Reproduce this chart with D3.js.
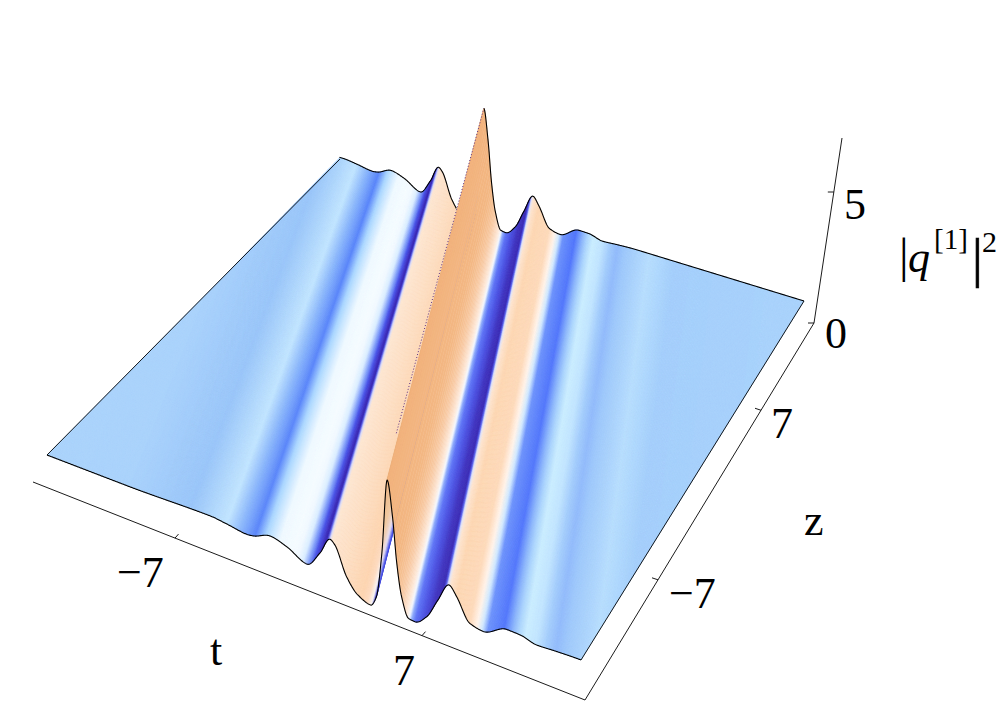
<!DOCTYPE html>
<html>
<head>
<meta charset="utf-8">
<script src="https://cdn.jsdelivr.net/npm/d3@7"></script>
<style>
  html, body { margin: 0; background: #fff; }
  svg { display: block; }
  text { font-family: "Liberation Serif", serif; fill: #000; }
</style>
</head>
<body>
<script>
// Wave profile: t where each wave meets the z = -15 edge, and its height
const ridgeT = [-15, -10.5, -5.85, -4.89, -3.77, -3.42, -2.46, -1.53, -0.39, 0.33, 0.9, 1.17, 1.83, 2.46,
  3.18, 3.51, 3.81, 4.11, 4.41, 4.65, 4.92, 5.31, 5.67, 6.33, 6.96, 7.59, 8.01, 8.76, 9.51, 10.83,
  11.58, 12.51, 13.62, 14.94, 18, 26.8];
const ridgeH = [1, 1, 1.06, 1, 0.91, 0.94, 1.16, 1.01, 0.68, 1.23, 1.84, 1.71, 0.77, 0.29,
  0.11, 0.48, 2.03, 4.64, 3.45, 1.9, 0.81, 0.15, 0.12, 0.45, 1.17, 1.84, 1.54, 0.79, 0.69, 1.07,
  1.06, 0.93, 0.97, 1, 1, 1];

// Surface shading across the waves
const shadeT = [-15, -10.5, -6.9, -4.9, -4.1, -3.3, -2.65, -1.9, -1.2, -0.9, -0.6, -0.3, 0.05, 0.45,
  0.72, 0.82, 0.92, 1.02, 2.4, 2.7, 3.0, 3.24, 3.48, 3.63, 3.75, 3.9, 4.11, 4.14, 4.65, 4.95, 5.2,
  5.36, 5.5, 5.7, 6.15, 6.75, 7.3, 7.45, 7.55, 7.68, 8.0, 8.76, 9.15, 9.45, 9.78, 10.7, 11.2, 11.5, 11.9, 12.5,
  13.1, 13.6, 14.2, 15.4, 15.85, 16.4, 17.6, 26.8];
const shadeColor = ["#a7d1fb", "#a6d0fb", "#96c3f8", "#bfe3fe", "#85b2fa", "#5682f9", "#a9d6fe", "#eef8ff", "#f4fbff",
  "#f0f8ff", "#d8ecff", "#7f9cf8", "#4a55e8", "#4032c0", "#3a2ab0", "#5a60e8", "#d9dcf8", "#fde5d0", "#fcd5b2",
  "#fdd3ae", "#fdd9bd", "#f8f4f4", "#3f40d0", "#4a55e8", "#e8e0f0", "#f0c8a0", "#e7a873", "#f2b27c", "#f3b783",
  "#f8cba6", "#fde8d8", "#f4f8ff", "#8aa8fa", "#5a70f5", "#4a50e0", "#4236c0", "#3d2db5", "#5560ee", "#dfe4fb",
  "#fde4cf", "#fcd5b0", "#fdd8b8", "#fff2e8", "#cfe8fe", "#6a90fb", "#4f74fa", "#8ab5fb", "#a9d3fc", "#c8ecfe", "#bfe3fe",
  "#9fc9fb", "#8fb9fa", "#9cc7fa", "#aed6fc", "#b5dcfd", "#afd8fc", "#a2cdfb", "#a7d1fb"];

const tTicks = [-7, 7];
const zTicks = [-7, 7];
const heightTicks = [0, 5];

const width = 1000, height = 703;
const svg = d3.select("body").append("svg").attr("width", width).attr("height", height);

// the reference is a soft jpeg, a slight blur also hides the seams between strips
svg.append("defs").append("filter").attr("id", "soft")
  .attr("x", "-2%").attr("y", "-2%").attr("width", "104%").attr("height", "104%")
  .append("feGaussianBlur").attr("stdDeviation", 0.6);

// Corners of the flat part of the surface on screen
const frontLeft = [47, 455], frontRight = [581, 660], backRight = [804, 301], backLeft = [340, 159];

const uScale = d3.scaleLinear([-15, 15], [0, 1]);
const heightPx = d3.scaleLinear([0, 1], [29, 26]); // pixels per height unit, front to back
const lean = d3.scaleLinear([0, 12], [9.45, 10.5]); // how far a wave drifts in t from z=-15 to z=15
const shade = d3.scaleLinear(shadeT, shadeColor).interpolate(d3.interpolateRgb);

// monotone cubic through the read profile, so the crests stay round
const slopes = ridgeT.map((t, i) => {
  if (i === 0 || i === ridgeT.length - 1) return 0;
  const a = (ridgeH[i] - ridgeH[i - 1]) / (t - ridgeT[i - 1]);
  const b = (ridgeH[i + 1] - ridgeH[i]) / (ridgeT[i + 1] - t);
  return a * b <= 0 ? 0 : 2 * a * b / (a + b);
});
function waveHeight(t) {
  const i = Math.min(d3.bisectRight(ridgeT, t), ridgeT.length - 1) - 1;
  const dt = ridgeT[i + 1] - ridgeT[i];
  const k = (t - ridgeT[i]) / dt;
  return (2 * k ** 3 - 3 * k ** 2 + 1) * ridgeH[i] + (k ** 3 - 2 * k ** 2 + k) * dt * slopes[i]
    + (-2 * k ** 3 + 3 * k ** 2) * ridgeH[i + 1] + (k ** 3 - k ** 2) * dt * slopes[i + 1];
}

function lerp(a, b, k) { return a + (b - a) * k; }

// screen position of a wave at a given v (0 front, 1 back)
function project(waveT, v) {
  const u = uScale(waveT - lean(waveT) * v);
  const x = lerp(lerp(frontLeft[0], frontRight[0], u), lerp(backLeft[0], backRight[0], u), v);
  const y = lerp(lerp(frontLeft[1], frontRight[1], u), lerp(backLeft[1], backRight[1], u), v);
  return [x, y - (waveHeight(waveT) - 1) * heightPx(v)];
}
// part of a wave line that lies on the surface
function span(waveT) {
  const s = lean(waveT);
  return [Math.max(0, (waveT - 15) / s), Math.min(1, (waveT + 15) / s)];
}

// Surface: one strip per small step in t, painted left to right so nearer flanks cover the rest
const step = 0.04;
const strips = d3.range(ridgeT[0], ridgeT[ridgeT.length - 1] - step / 2, step);
svg.append("g").attr("filter", "url(#soft)").selectAll("path")
  .data(strips)
  .join("path")
  .attr("d", t => {
    const a = span(t), b = span(t + step);
    return "M" + [project(t, a[0]), project(t, a[1]), project(t + step, b[1]), project(t + step, b[0])].join("L") + "Z";
  })
  .attr("fill", t => shade(t + step / 2))
  .attr("stroke", t => shade(t + step / 2))
  .attr("stroke-width", 0.5);

const line = d3.line();
const outline = svg.append("g").attr("fill", "none").attr("stroke", "#000").attr("stroke-linejoin", "round");

// crest of the tall wave has a dotted seam
const crestT = 4.11;
outline.append("path")
  .attr("d", line([project(crestT, 0.12), project(crestT, 1)]))
  .attr("stroke", "#5b2f86")
  .attr("stroke-dasharray", "1 2");

// profile along the z=-15 edge
outline.append("path")
  .attr("d", line(d3.range(-15, 15.001, 0.03).map(t => project(t, 0))))
  .attr("stroke-width", 1.1);

// profile along the z=15 edge, the tall wave hides a piece of it
const backStart = -6.12, backEnd = 26.8, hiddenFrom = 2.16;
[[backStart, hiddenFrom], [crestT, backEnd]].forEach(([a, b]) => {
  outline.append("path")
    .attr("d", line(d3.range(a, b, 0.03).map(t => project(t, 1))))
    .attr("stroke-width", 1.1);
});

// side edges of the surface
outline.append("path").attr("d", line([frontLeft, backLeft])).attr("stroke-width", 0.9);
outline.append("path").attr("d", line([frontRight, backRight])).attr("stroke-width", 0.9);

// Box axes
const axes = svg.append("g").attr("fill", "none").attr("stroke", "#000").attr("stroke-width", 0.9);
const boxLeft = [33, 482], boxCorner = [585, 700], boxRight = [814, 323], boxTop = [842, 138];
axes.append("path").attr("d", line([boxLeft, boxCorner, boxRight, boxTop]));

const tAxisX = d3.scaleLinear([-7, 7], [175, 422]);
const tAxisY = d3.scaleLinear([boxLeft[0], boxCorner[0]], [boxLeft[1], boxCorner[1]]);
const zAxisX = d3.scaleLinear([-7, 7], [658, 761]);
const zAxisY = d3.scaleLinear([boxCorner[0], boxRight[0]], [boxCorner[1], boxRight[1]]);
const hAxisY = d3.scaleLinear([0, 5], [323, 192]);
const hAxisX = d3.scaleLinear([boxRight[1], boxTop[1]], [boxRight[0], boxTop[0]]);

axes.selectAll(".t-tick").data(tTicks).join("path").attr("class", "t-tick")
  .attr("d", d => { const x = tAxisX(d), y = tAxisY(x); return line([[x, y], [x + 3.5, y - 4]]); });
axes.selectAll(".z-tick").data(zTicks).join("path").attr("class", "z-tick")
  .attr("d", d => { const x = zAxisX(d), y = zAxisY(x); return line([[x, y], [x - 6, y - 2]]); });
axes.selectAll(".h-tick").data(heightTicks).join("path").attr("class", "h-tick")
  .attr("d", d => { const y = hAxisY(d), x = hAxisX(y); return line([[x, y], [x - 6, y]]); });

function label(x, y, str, size, style) {
  return svg.append("text").attr("x", x).attr("y", y).attr("font-size", size)
    .attr("font-style", style || "normal").text(str);
}
const fmt = d => (d < 0 ? "\u2212" : "") + Math.abs(d);

// tick labels and axis titles
label(117, 587, fmt(tTicks[0]), 44);
label(393, 685, fmt(tTicks[1]), 44);
label(669, 608, fmt(zTicks[0]), 44);
label(771, 438, fmt(zTicks[1]), 44);
label(825, 348, fmt(heightTicks[0]), 44);
label(844, 219, fmt(heightTicks[1]), 44);
label(210, 665, "t", 44);
label(804, 535, "z", 44);

label(899, 272, "|", 48);
label(908, 272, "q", 44, "italic");
label(934, 249, "[1]", 29);
label(972, 276, "|", 54).attr("stroke", "#000").attr("stroke-width", 0.7);
label(982, 252, "2", 30);
</script>
</body>
</html>
